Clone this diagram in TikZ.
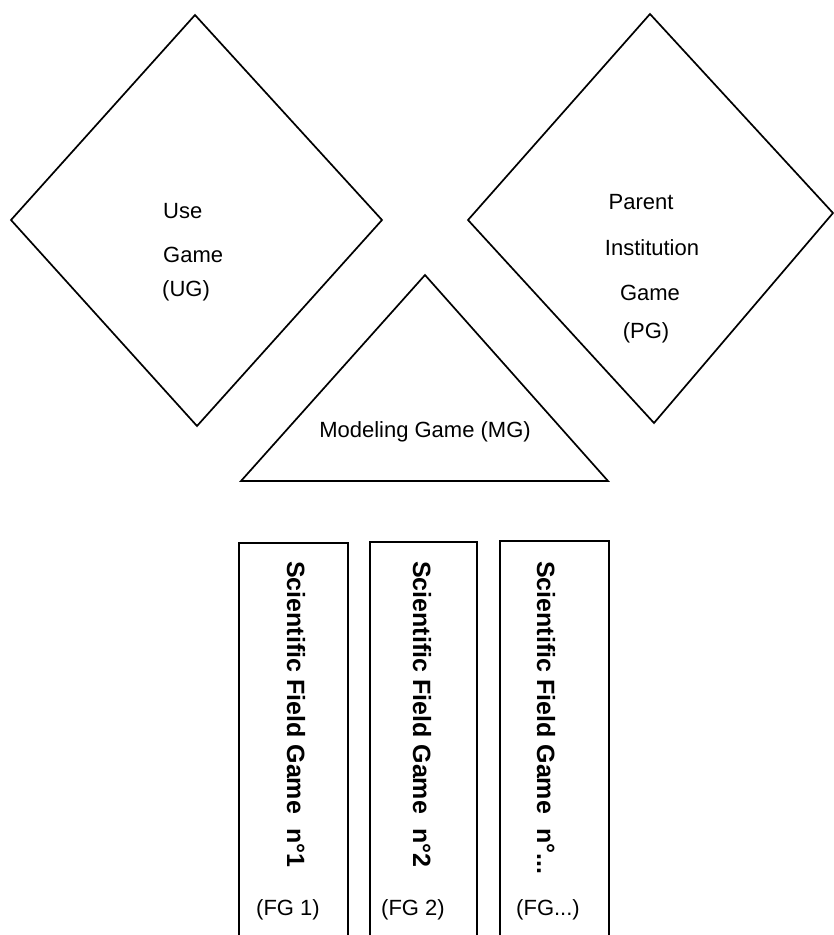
\documentclass[tikz,border=0pt]{standalone}
\usepackage{fontspec}
\setmainfont{Liberation Sans}
\begin{document}
\begin{tikzpicture}[x=1pt,y=-1pt,
  outline/.style={draw=black, line width=1.7pt, line join=miter},
  lbl/.style={inner sep=0pt, font=\fontsize{22}{26}\selectfont},
  fglbl/.style={inner sep=0pt, font=\fontsize{22}{26}\selectfont, anchor=base},
  spine/.style={inner sep=0pt, rotate=-90, anchor=base west,
    font=\fontsize{25}{30}\selectfont\bfseries}]
\useasboundingbox (0,0) rectangle (834,935);

% the two games drawn as diamonds
\draw[outline] (195,15) -- (382,220) -- (197,426) -- (11,220) -- cycle;
\draw[outline] (650,14) -- (833,213) -- (654,423) -- (468,220) -- cycle;

% modeling game triangle
\draw[outline] (425,275) -- (608,481) -- (241,481) -- cycle;

% scientific field columns, open at the bottom
\draw[outline] (239,940) -- (239,543) -- (348,543) -- (348,940);
\draw[outline] (370,940) -- (370,542) -- (477,542) -- (477,940);
\draw[outline] (500,940) -- (500,541) -- (609,541) -- (609,940);

% use game
\node[lbl, anchor=base west] (ug1) at (163,218) {Use};
\node[lbl, anchor=base west] (ug2) at (163,262) {Game};
\node[lbl, anchor=base west] (ug3) at (162,296) {(UG)};

% parent institution game
\node[lbl, anchor=base] (pg1) at (641,209) {Parent};
\node[lbl, anchor=base] (pg2) at (652,255) {Institution};
\node[lbl, anchor=base] (pg3) at (650,300) {Game};
\node[lbl, anchor=base] (pg4) at (646,338) {(PG)};

% modeling game
\node[lbl, anchor=base] (mg) at (425,437) {Modeling Game (MG)};

% field games
\node[spine] (fg1) at (287,561) {Scientific Field Game\hspace{14pt}n°1};
\node[spine] (fg2) at (413,561) {Scientific Field Game\hspace{14pt}n°2};
\node[spine] (fg3) at (537,561) {Scientific Field Game\hspace{14pt}n°...};

\node[fglbl] (fgl1) at (288,915) {(FG 1)};
\node[fglbl] (fgl2) at (413,915) {(FG 2)};
\node[fglbl] (fgl3) at (548,915) {(FG...)};
\end{tikzpicture}
\end{document}
